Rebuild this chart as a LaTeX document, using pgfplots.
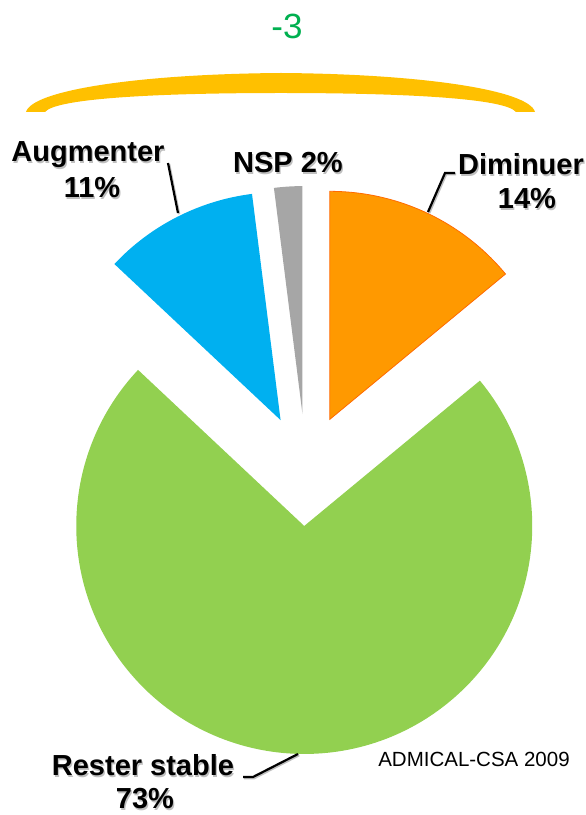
\documentclass[border=0pt]{standalone}
\usepackage{pgfplots}
\pgfplotsset{compat=1.18}
\usepackage{fontspec}
\setmainfont{Liberation Sans}
\definecolor{pieorange}{HTML}{FF9900}
\definecolor{orangeedge}{HTML}{FF6A00}
\definecolor{pieblue}{HTML}{00B0F0}
\definecolor{piegreen}{HTML}{92D050}
\definecolor{piegrey}{HTML}{A6A6A6}
\definecolor{braceyellow}{HTML}{FFC000}
\definecolor{titlegreen}{HTML}{00B050}

% part exploded from the centre (306,345), radius 228
\newcommand{\slice}[3]{\fill[#3] (axis cs:306,345) ++({(#1+#2)/2}:56pt) -- ++(#1:228pt)
  arc[start angle=#1, end angle=#2, radius=228pt] -- cycle;}
\tikzset{lblsty/.style={anchor=base, inner sep=0pt, font=\fontsize{29}{34}\selectfont\bfseries}}
\newcommand{\lbl}[3]{%
  \node[lblsty, text=black!25, xshift=1.2pt, yshift=-1.2pt] at (axis cs:#1,#2) {#3};
  \node[lblsty] at (axis cs:#1,#2) {#3};}

\begin{document}
\begin{tikzpicture}
% parts en %
\def\vDim{14}\def\vRes{73}\def\vAug{11}\def\vNsp{2}
\pgfmathsetmacro\aA{90}
\pgfmathsetmacro\aB{\aA-3.6*\vDim}
\pgfmathsetmacro\aC{\aB-3.6*\vRes}
\pgfmathsetmacro\aD{\aC-3.6*\vAug}
\pgfmathsetmacro\aE{\aD-3.6*\vNsp}
\begin{axis}[x=1pt, y=1pt, xmin=0, xmax=585, ymin=0, ymax=815,
    hide axis, clip=false]
  \path (axis cs:0,0) rectangle (axis cs:585,815);

  \slice{\aA}{\aB}{pieorange, draw=orangeedge, line width=0.8pt}
  \slice{\aB}{\aC}{piegreen}
  \slice{\aC}{\aD}{pieblue}
  \slice{\aD}{\aE}{piegrey}

  % yellow brace
  \fill[braceyellow] (axis cs:26,703) .. controls (axis cs:32,725) and (axis cs:140,741) .. (axis cs:281,742)
    .. controls (axis cs:422,741) and (axis cs:529,725) .. (axis cs:535,703)
    -- (axis cs:516,703) .. controls (axis cs:505,717) and (axis cs:400,722) .. (axis cs:281,722)
    .. controls (axis cs:162,722) and (axis cs:56,717) .. (axis cs:45,703) -- cycle;

  \node[anchor=base, inner sep=0pt, text=titlegreen, font=\fontsize{35}{40}\selectfont] at (axis cs:287,776) {-3};

  % leader lines
  \begin{scope}[line width=2.2pt]
    \draw[black!25, xshift=1.2pt, yshift=-1.2pt] (axis cs:168,652) -- (axis cs:178,602);
    \draw (axis cs:168,652) -- (axis cs:178,602);
    \draw[black!25, xshift=1.2pt, yshift=-1.2pt] (axis cs:428,603) -- (axis cs:445,642) -- (axis cs:455,642);
    \draw (axis cs:428,603) -- (axis cs:445,642) -- (axis cs:455,642);
    \draw[black!25, xshift=1.2pt, yshift=-1.2pt] (axis cs:243,38) -- (axis cs:253,38) -- (axis cs:298,61);
    \draw (axis cs:243,38) -- (axis cs:253,38) -- (axis cs:298,61);
  \end{scope}

  \lbl{88}{653}{Augmenter}
  \lbl{92}{617}{11\%}
  \lbl{288}{642}{NSP 2\%}
  \lbl{521}{640}{Diminuer}
  \lbl{527}{606}{14\%}
  \lbl{143}{39}{Rester stable}
  \lbl{145}{6}{73\%}

  \node[anchor=base, inner sep=0pt, font=\fontsize{20.5}{24}\selectfont] at (axis cs:474,48) {ADMICAL-CSA 2009};
\end{axis}
\end{tikzpicture}
\end{document}
